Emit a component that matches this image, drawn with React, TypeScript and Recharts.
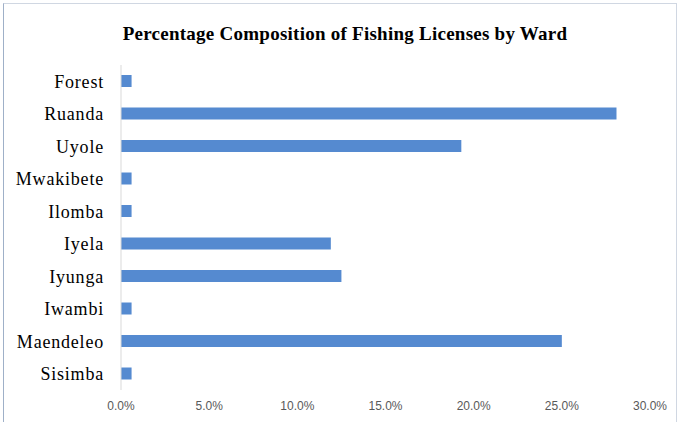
import { BarChart, Bar, XAxis, YAxis } from 'recharts'

const wards = ['Forest', 'Ruanda', 'Uyole', 'Mwakibete', 'Ilomba', 'Iyela', 'Iyunga', 'Iwambi', 'Maendeleo', 'Sisimba']
const shares = [0.6, 28.1, 19.3, 0.6, 0.6, 11.9, 12.5, 0.6, 25.0, 0.6]
const xTicks = [0, 5, 10, 15, 20, 25, 30]

const data = wards.map((ward, i) => ({ ward, share: shares[i] }))

export default function App() {
  return (
    <div style={{ position: 'absolute', left: 0, top: 0, width: 678, height: 422, overflow: 'hidden', background: '#fff' }}>
      {/* chart frame */}
      <div
        style={{
          position: 'absolute',
          left: 3,
          top: 3,
          width: 672,
          height: 440,
          borderTop: '1px solid #d0d7e2',
          borderLeft: '1px solid #9fb0c8',
          borderRight: '1px solid #d0d7e2',
        }}
      />
      <div
        style={{
          position: 'absolute',
          top: 22,
          left: 12,
          width: 666,
          textAlign: 'center',
          fontFamily: '"Liberation Serif", serif',
          fontWeight: 'bold',
          fontSize: 19,
          letterSpacing: 0.25,
          lineHeight: '24px',
          color: '#000',
        }}
      >
        Percentage Composition of Fishing Licenses by Ward
      </div>
      <BarChart
        width={678}
        height={422}
        data={data}
        layout="vertical"
        margin={{ top: 65, right: 28, bottom: 0, left: 0 }}
        style={{ position: 'absolute', left: 0, top: 0 }}
      >
        <XAxis
          type="number"
          domain={[0, 30]}
          ticks={xTicks}
          tickFormatter={(v: number) => `${v.toFixed(1)}%`}
          axisLine={false}
          tickLine={false}
          tickSize={0}
          tickMargin={11}
          height={32}
          tick={{ fontFamily: '"Liberation Sans", sans-serif', fontSize: 12, fill: '#595959' }}
          interval={0}
        />
        <YAxis
          type="category"
          dataKey="ward"
          width={121}
          axisLine={{ stroke: '#d9d9d9' }}
          tickLine={false}
          tickSize={0}
          tickMargin={17}
          interval={0}
          tick={{ fontFamily: '"Liberation Serif", serif', fontSize: 18, letterSpacing: 0.8, fill: '#000' }}
        />
        <Bar dataKey="share" fill="#558ad0" barSize={12} isAnimationActive={false} />
      </BarChart>
    </div>
  )
}
